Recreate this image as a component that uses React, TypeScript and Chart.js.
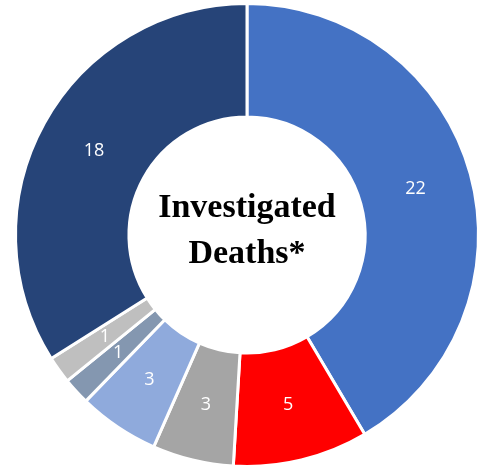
import React, { useEffect, useRef } from "react";
import { Chart, registerables } from "chart.js";

Chart.register(...registerables);

const categories = ["A", "B", "C", "D", "E", "F", "G"];
const values = [22, 5, 3, 3, 1, 1, 18];
const colors = ["#4472C4", "#FF0000", "#A5A5A5", "#8FAADC", "#8497B0", "#BFBFBF", "#264478"];
const centerLines = ["Investigated", "Deaths*"];

const labelPlugin = {
  id: "sliceLabels",
  afterDatasetsDraw(chart: any) {
    const ctx = chart.ctx;
    const meta = chart.getDatasetMeta(0);
    ctx.save();
    ctx.fillStyle = "#FFFFFF";
    ctx.font = "18px 'Open Sans'";
    ctx.textAlign = "center";
    ctx.textBaseline = "middle";
    meta.data.forEach((arc: any, i: number) => {
      const { x, y, startAngle, endAngle, innerRadius, outerRadius } = arc.getProps(
        ["x", "y", "startAngle", "endAngle", "innerRadius", "outerRadius"],
        true
      );
      const a = (startAngle + endAngle) / 2;
      const r = (innerRadius + outerRadius) / 2;
      ctx.fillText(String(values[i]), x + r * Math.cos(a), y + r * Math.sin(a));
    });
    const first = meta.data[0];
    const cx = first.x;
    const cy = first.y;
    ctx.fillStyle = "#000000";
    ctx.font = "bold 34px 'Liberation Serif'";
    ctx.textBaseline = "alphabetic";
    ctx.fillText(centerLines[0], cx, cy - 18);
    ctx.fillText(centerLines[1], cx, cy + 28);
    ctx.restore();
  },
};

export default function App() {
  const ref = useRef<HTMLCanvasElement>(null);
  useEffect(() => {
    if (!ref.current) return;
    const chart = new Chart(ref.current, {
      type: "doughnut",
      data: {
        labels: categories,
        datasets: [
          {
            data: values,
            backgroundColor: colors,
            borderColor: "#FFFFFF",
            borderWidth: 3,
          },
        ],
      },
      options: {
        responsive: false,
        animation: false,
        cutout: "51%",
        layout: { padding: { left: 14, right: 2, top: 2, bottom: 1 } },
        plugins: { legend: { display: false }, tooltip: { enabled: false } },
      },
      plugins: [labelPlugin],
    });
    return () => chart.destroy();
  }, []);
  return (
    <div style={{ position: "fixed", left: 0, top: 0, width: 482, height: 469, background: "#FFFFFF" }}>
      <canvas ref={ref} width={482} height={469} style={{ display: "block", width: 482, height: 469 }} />
    </div>
  );
}
